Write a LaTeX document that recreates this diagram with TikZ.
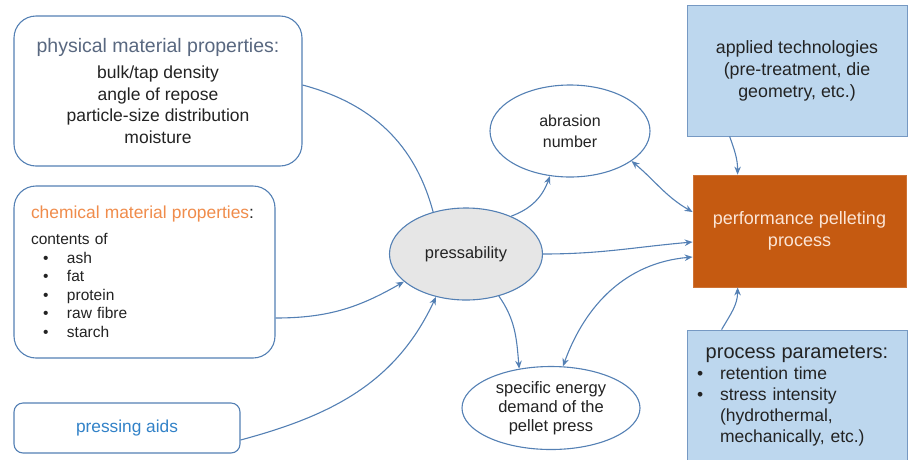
\documentclass[tikz,border=0pt]{standalone}
\usepackage{fontspec}
\setmainfont{Liberation Sans}
\usepackage{tikz}
\usetikzlibrary{arrows.meta}
\usetikzlibrary{shapes.geometric}
\usepackage{xcolor}
\definecolor{linkblue}{RGB}{84,128,180}
\definecolor{boxblue}{RGB}{189,215,238}
\definecolor{pelletorange}{RGB}{197,90,17}
\definecolor{pelletcream}{RGB}{251,229,214}
\definecolor{bubblegray}{RGB}{230,230,230}
\definecolor{titleslate}{RGB}{89,104,128}
\definecolor{titleorange}{RGB}{240,140,75}
\definecolor{aidsblue}{RGB}{50,130,200}
\definecolor{textdark}{RGB}{35,35,35}

\begin{document}
\begin{tikzpicture}[x=1pt,y=-1pt,
  roundbox/.style={shape=rectangle,rounded corners=22pt,draw=linkblue,line width=1.1pt,fill=white,text=textdark},
  bubble/.style={shape=ellipse,draw=linkblue,line width=1.1pt,fill=white,text=textdark,inner sep=0pt,align=center},
  techbox/.style={shape=rectangle,draw=linkblue!80,line width=0.8pt,fill=boxblue,text=textdark},
  link/.style={draw=linkblue,line width=1.1pt},
  onearrow/.style={-{Stealth[length=8pt,width=6.5pt]}},
  twoarrow/.style={{Stealth[length=8pt,width=6.5pt]}-{Stealth[length=8pt,width=6.5pt]}}]
      \useasboundingbox (0,0) rectangle (913,459);

      % material side
      \node[roundbox,
        minimum width = 288pt,
        minimum height = 150pt,
        align=center,
        font=\fontsize{17.5}{21.5}\selectfont] (physical) at (158,91)
        {{\fontsize{19.5}{24}\selectfont\color{titleslate}physical material properties:}\\[5pt]
         bulk/tap density\\ angle of repose\\ particle-size distribution\\ moisture};
      \node[roundbox,
        minimum width = 261pt,
        minimum height = 172pt,
        text width = 227pt,
        align=left,
        font=\fontsize{15.5}{18.6}\selectfont] (chemical) at (144.5,272)
        {{\fontsize{17.4}{20}\selectfont\color{titleorange}chemical material properties\color{textdark}:}\\[7pt]
         contents of\\
         \hspace*{12pt}\makebox[24pt][l]{\textbullet}ash\\
         \hspace*{12pt}\makebox[24pt][l]{\textbullet}fat\\
         \hspace*{12pt}\makebox[24pt][l]{\textbullet}protein\\
         \hspace*{12pt}\makebox[24pt][l]{\textbullet}raw fibre\\
         \hspace*{12pt}\makebox[24pt][l]{\textbullet}starch};
      \node[roundbox,
        rounded corners=9pt,
        text=aidsblue,
        minimum width = 226pt,
        minimum height = 50pt,
        font=\fontsize{17.3}{20}\selectfont] (aids) at (127,428) {pressing aids};

      % middle ellipses
      \node[bubble,
        fill=bubblegray,
        minimum width = 153pt,
        minimum height = 92pt,
        font=\fontsize{16.4}{20}\selectfont] (press) at (466,254) {pressability};
      \node[bubble,
        minimum width = 160pt,
        minimum height = 92pt,
        font=\fontsize{16}{21}\selectfont] (abrasion) at (570,131) {abrasion\\number};
      \node[bubble,
        minimum width = 178pt,
        minimum height = 83pt,
        font=\fontsize{16.5}{19}\selectfont] (energy) at (551,408) {specific energy\\demand of the\\pellet press};

      % process side
      \node[techbox,
        minimum width = 220pt,
        minimum height = 131pt,
        align=center,
        font=\fontsize{17.8}{22}\selectfont] (applied) at (797,70.5)
        {applied technologies\\(pre-treatment, die\\geometry, etc.)};
      \node[techbox,
        fill=pelletorange,
        draw=pelletorange!85!white,
        text=pelletcream,
        minimum width = 213pt,
        minimum height = 112pt,
        align=center,
        font=\fontsize{18}{22}\selectfont] (perf) at (799.5,231) {performance pelleting\\process};
      \node[techbox,
        minimum width = 220pt,
        minimum height = 132pt,
        text width = 200pt,
        align=left,
        font=\fontsize{17.5}{21}\selectfont] (params) at (797,396)
        {\makebox[200pt]{\fontsize{20}{21}\selectfont process parameters:}\\
         \makebox[23pt][l]{\textbullet}retention time\\
         \makebox[23pt][l]{\textbullet}stress intensity\\
         \hspace*{23pt}(hydrothermal,\\
         \hspace*{23pt}mechanically, etc.)};

      % connectors
      \draw[link] ([yshift=6pt]physical.east) to[out=-15,in=105] (press.128);
      \draw[link,onearrow] ([yshift=-46pt]chemical.east) to[out=0,in=210] (press.204);
      \draw[link,onearrow] ([yshift=-12pt]aids.east) to[out=15,in=245] (press.235);
      \draw[link,onearrow] (press.40) to[out=20,in=250] (abrasion.246);
      \draw[link,onearrow] (press.east) to[out=0,in=185] ([yshift=-11pt]perf.west);
      \draw[link,onearrow] (press.-52) to[out=-55,in=95] (energy.129);
      \draw[link,twoarrow] ([yshift=19pt]perf.west) to[out=150,in=-40] (abrasion.-26);
      \draw[link,twoarrow] ([yshift=-26pt]perf.west) to[out=185,in=70] (energy.74);
      \draw[link,onearrow] ([xshift=43pt]applied.south west) to[out=-70,in=90] ([xshift=45pt]perf.north west);
      \draw[link,onearrow] ([xshift=35pt]params.north west) to[out=60,in=-90] ([xshift=45pt]perf.south west);
\end{tikzpicture}
\end{document}
